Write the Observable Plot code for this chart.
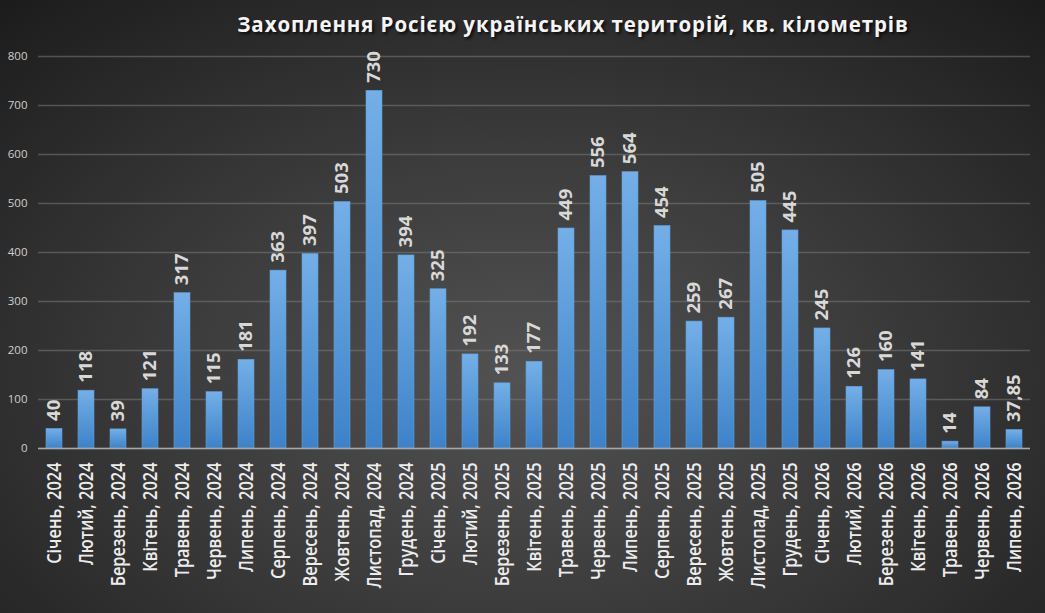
<!DOCTYPE html>
<html>
<head>
<meta charset="utf-8">
<script src="https://cdn.jsdelivr.net/npm/d3@7"></script>
<script src="https://cdn.jsdelivr.net/npm/@observablehq/plot@0.6"></script>
<style>
  html, body { margin: 0; padding: 0; }
  #wrap {
    position: relative; width: 1045px; height: 613px; overflow: hidden;
    background: radial-gradient(ellipse 75% 85% at 50% 62%, #525252 0%, #3b3b3b 45%, #1b1b1b 100%);
    font-family: "Open Sans", sans-serif;
  }
  #title {
    position: absolute; left: 173px; width: 800px; top: 10px;
    text-align: center; color: #f4f4f4; font-weight: 700; font-size: 20.5px;
    letter-spacing: 0.9px;
    text-shadow: 2px 2px 3px rgba(0,0,0,0.75);
  }
  #chart { position: absolute; left: 0; top: 0; }
</style>
</head>
<body>
<div id="wrap">
  <div id="chart"></div>
  <div id="title">Захоплення Росією українських територій, кв. кілометрів</div>
</div>
<script>
const months = [
  "Січень","Лютий","Березень","Квітень","Травень","Червень","Липень","Серпень","Вересень","Жовтень","Листопад","Грудень",
  "Січень","Лютий","Березень","Квітень","Травень","Червень","Липень","Серпень","Вересень","Жовтень","Листопад","Грудень",
  "Січень","Лютий","Березень","Квітень","Травень","Червень","Липень"
];
const years = [
  2024,2024,2024,2024,2024,2024,2024,2024,2024,2024,2024,2024,
  2025,2025,2025,2025,2025,2025,2025,2025,2025,2025,2025,2025,
  2026,2026,2026,2026,2026,2026,2026
];
const values = [
  40,118,39,121,317,115,181,363,397,503,730,394,
  325,192,133,177,449,556,564,454,259,267,505,445,
  245,126,160,141,14,84,37.85
];
const yTicks = [0,100,200,300,400,500,600,700,800];

const data = months.map((m, i) => ({ label: `${m}, ${years[i]}`, value: values[i] }));
const fmt = v => Number.isInteger(v) ? String(v) : String(v).replace(".", ",");

const plot = Plot.plot({
  width: 1045,
  height: 613,
  marginLeft: 38,
  marginRight: 15,
  marginTop: 56,
  marginBottom: 165,
  style: { background: "transparent", fontFamily: "Open Sans, sans-serif", overflow: "visible" },
  x: { type: "band", domain: data.map(d => d.label), paddingInner: 0.5, paddingOuter: 0.25, label: null },
  y: { domain: [0, 800], label: null },
  marks: [
    Plot.gridY(yTicks, { stroke: "#7a7a7a", strokeOpacity: 0.55, strokeWidth: 1.3 }),
    Plot.barY(data, { x: "label", y: "value", fill: "url(#barGrad)", stroke: "#5e9ddc", strokeWidth: 0.6 }),
    Plot.ruleY([0], { stroke: "#a8a8a8", strokeWidth: 1.3 }),
    Plot.text(data, {
      x: "label", y: "value", text: d => fmt(d.value), rotate: -90,
      textAnchor: "start", lineAnchor: "middle", dy: -8,
      fill: "#d8d8d8", fontSize: 18.5, fontWeight: 700
    }),
    Plot.axisX({ tickSize: 0, tickPadding: 14, tickRotate: -90, fontSize: 19.5, fontWeight: 600, fill: "#ececec", label: null }),
    Plot.axisY(yTicks, { tickSize: 0, tickPadding: 11, fontSize: 11.5, fill: "#cfcfcf", label: null })
  ]
});

const svg = d3.select(plot);
const defs = svg.insert("defs", ":first-child");
const g = defs.append("linearGradient").attr("id", "barGrad").attr("x1", 0).attr("y1", 0).attr("x2", 0).attr("y2", 1);
g.append("stop").attr("offset", "0%").attr("stop-color", "#74afe7");
g.append("stop").attr("offset", "100%").attr("stop-color", "#3d82c9");

// condense the rotated month labels along their reading direction
svg.selectAll('g[aria-label="x-axis tick label"] text').each(function () {
  const t = this.getAttribute("transform") || "";
  this.setAttribute("transform", t + " scale(0.84,1)");
});

document.getElementById("chart").appendChild(plot);
</script>
</body>
</html>
